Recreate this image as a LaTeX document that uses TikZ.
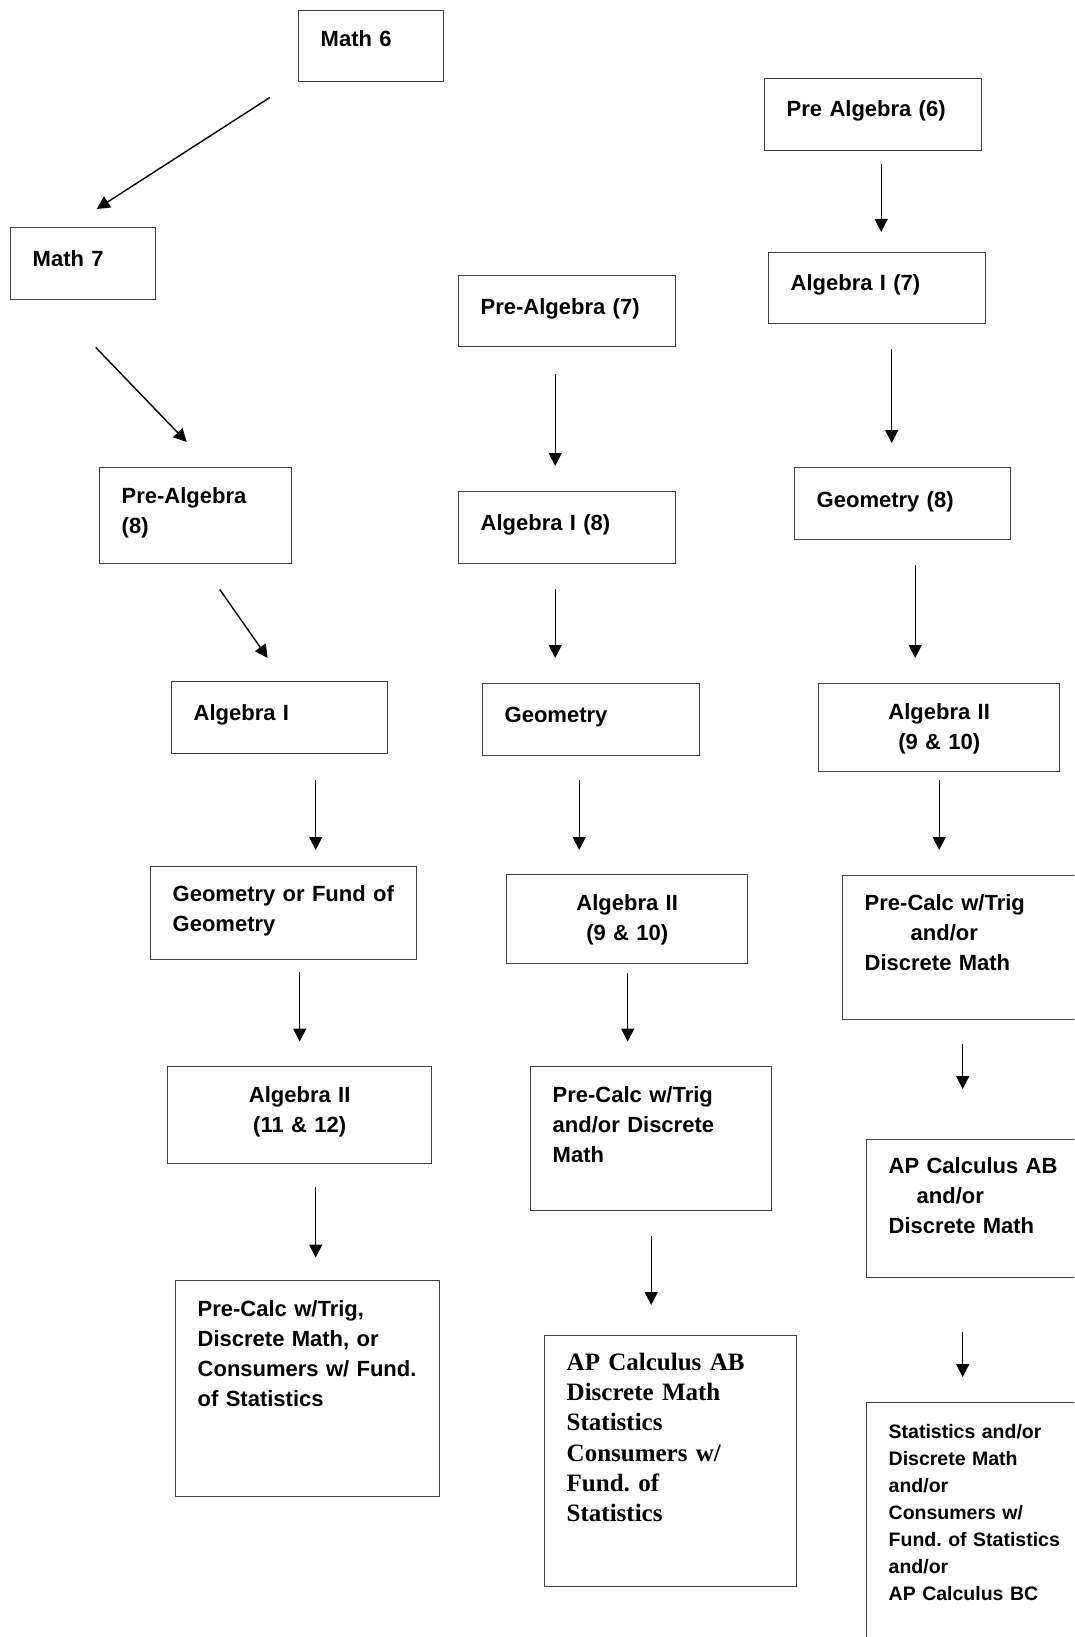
\documentclass[tikz,border=0pt]{standalone}
\usepackage{fontspec}
\setmainfont{Liberation Sans}
\newfontfamily\serifbox{Liberation Serif}[WordSpace=2]
\usetikzlibrary{arrows.meta,positioning}
\frenchspacing

\begin{document}
\begin{tikzpicture}[x=1pt,y=-1pt,->,>={Triangle[length=13pt,width=13pt]},line width=1.4pt,
			course/.style={draw=black!75,anchor=north west,align=left,inner xsep=22pt,inner ysep=0pt,
				font=\fontsize{22}{30}\selectfont\bfseries},
			mid course/.style={course,align=center}]

			\clip (0,0) rectangle (1074,1637);

			% left column
			\node[course,text width=101pt,text height=36pt,text depth=35pt] (a1) at (298,10) {Math 6};
			\node[course,text width=101pt,text height=39pt,text depth=33pt] (a2) at (10,227) {Math 7};
			\node[course,text width=148pt,text height=36pt,text depth=60pt] (a3) at (99,467) {Pre-Algebra\\(8)};
			\node[course,text width=172pt,text height=39pt,text depth=33pt] (a4) at (171,681) {Algebra I};
			\node[course,text width=222pt,text height=35pt,text depth=58pt] (a5) at (150,866) {Geometry or Fund of\\Geometry};
			\node[mid course,text width=220pt,text height=36pt,text depth=61pt] (a6) at (167,1066) {Algebra II\\(11 \& 12)};
			\node[course,text width=220pt,text height=36pt,text depth=180pt] (a7) at (175,1280) {Pre-Calc w/Trig,\\Discrete Math, or\\Consumers w/ Fund.\\of Statistics};

			% middle column
			\node[course,text width=173pt,text height=39pt,text depth=32pt] (b1) at (458,275) {Pre-Algebra (7)};
			\node[course,text width=173pt,text height=39pt,text depth=33pt] (b2) at (458,491) {Algebra I (8)};
			\node[course,text width=173pt,text height=39pt,text depth=33pt] (b3) at (482,683) {Geometry};
			\node[mid course,text width=197pt,text height=36pt,text depth=53pt] (b4) at (506,874) {Algebra II\\(9 \& 10)};
			\node[course,text width=197pt,text height=36pt,text depth=108pt] (b5) at (530,1066) {Pre-Calc w/Trig\\and/or Discrete\\Math};
			\node[course,text width=208pt,text height=34.5pt,text depth=216.5pt,font=\fontsize{25}{30.3}\selectfont\serifbox\bfseries] (b6) at (544,1335)
				{AP Calculus AB\\Discrete Math\\Statistics\\Consumers w/\\Fund. of\\Statistics};

			% right column
			\node[course,text width=173pt,text height=38pt,text depth=34pt] (c1) at (764,78) {Pre Algebra (6)};
			\node[course,text width=173pt,text height=38pt,text depth=33pt] (c2) at (768,252) {Algebra I (7)};
			\node[course,text width=172pt,text height=40pt,text depth=32pt] (c3) at (794,467) {Geometry (8)};
			\node[mid course,text width=197pt,text height=36pt,text depth=52pt] (c4) at (818,683) {Algebra II\\(9 \& 10)};
			\node[course,text width=214pt,text height=35pt,text depth=109pt] (c5) at (842,875) {Pre-Calc w/Trig\\\hspace*{46pt}and/or\\Discrete Math};
			\node[course,text width=190pt,text height=34pt,text depth=104pt] (c6) at (866,1139) {AP Calculus AB\\\hspace*{28pt}and/or\\Discrete Math};
			\node[course,text width=190pt,text height=36pt,text depth=242pt,font=\fontsize{19.5}{27}\selectfont\bfseries] (c7) at (866,1402)
				{Statistics and/or\\Discrete Math\\and/or\\Consumers w/\\Fund. of Statistics\\and/or\\AP Calculus BC};

			\path
			([xshift=-28pt,yshift=-15pt]a1.south west) edge ([xshift=13.5pt,yshift=18pt]a2.north)
			([xshift=12.5pt,yshift=-47pt]a2.south) edge ([xshift=-9pt,yshift=25pt]a3.north)
			([xshift=24pt,yshift=-25pt]a3.south) edge ([xshift=-12pt,yshift=23pt]a4.north)
			([xshift=36pt,yshift=-26pt]a4.south) edge ([xshift=32pt,yshift=16pt]a5.north)
			([xshift=16pt,yshift=-12pt]a5.south) edge ([xshift=0pt,yshift=24.5pt]a6.north)
			([xshift=16pt,yshift=-23pt]a6.south) edge ([xshift=8pt,yshift=22.5pt]a7.north);

			\path
			([xshift=-12pt,yshift=-26.5pt]b1.south) edge ([xshift=-12pt,yshift=25pt]b2.north)
			([xshift=-12pt,yshift=-24.6pt]b2.south) edge ([xshift=-36pt,yshift=25pt]b3.north)
			([xshift=-12pt,yshift=-24pt]b3.south) edge ([xshift=-48pt,yshift=24pt]b4.north)
			([xshift=0.5pt,yshift=-8.6pt]b4.south) edge ([xshift=-23.5pt,yshift=24.5pt]b5.north)
			([xshift=0pt,yshift=-24.6pt]b5.south) edge ([xshift=-19.5pt,yshift=30pt]b6.north);

			\path
			([xshift=8pt,yshift=-12.5pt]c1.south) edge ([xshift=4pt,yshift=20pt]c2.north)
			([xshift=14.5pt,yshift=-25pt]c2.south) edge ([xshift=-11pt,yshift=24pt]c3.north)
			([xshift=12.5pt,yshift=-25pt]c3.south) edge ([xshift=-24pt,yshift=25pt]c4.north)
			([xshift=0pt,yshift=-8pt]c4.south) edge ([xshift=-32.5pt,yshift=25pt]c5.north)
			([xshift=-9pt,yshift=-24pt]c5.south) edge ([xshift=-21pt,yshift=50pt]c6.north)
			([xshift=-21pt,yshift=-54pt]c6.south) edge ([xshift=-21pt,yshift=25pt]c7.north);

		\end{tikzpicture}
\end{document}
